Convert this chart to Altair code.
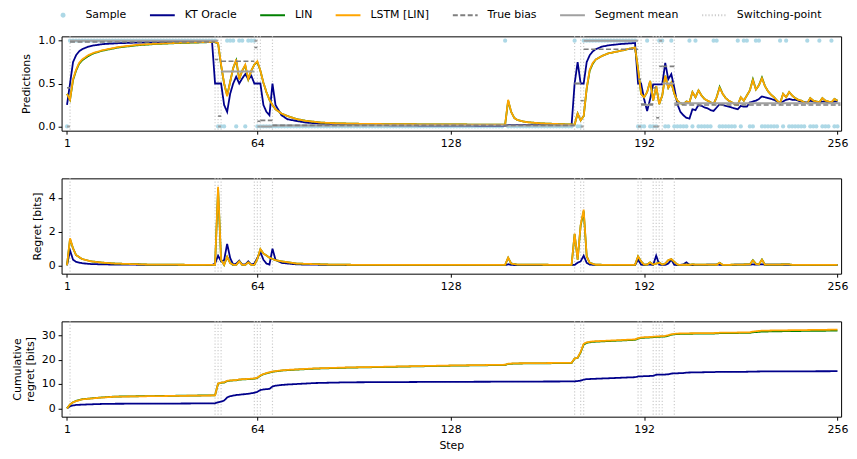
import altair as alt
import pandas as pd

FONT = "DejaVu Sans"

# ---------------- legend / series ----------------
series_names = ["Sample", "KT Oracle", "LIN", "LSTM [LIN]", "True bias", "Segment mean", "Switching-point"]
series_colors = ["#add8e6", "#00008b", "#008000", "#ffa500", "#7f7f7f", "#a0a0a0", "#cccccc"]
series_dashes = [[1, 0], [1, 0], [1, 0], [1, 0], [5, 2.5], [1, 0], [1.2, 2]]

x_ticks = [1, 64, 128, 192, 256]

# ---------------- observed samples (step 1..256) ----------------
samples = (
    "0111111111111111"  # 1-16
    "1111111111111111"  # 17-32
    "1111111111111111"  # 33-48
    "1100011101101110"  # 49-64
    "0000000000000000"  # 65-80
    "0000000000000000"  # 81-96
    "0000000000000000"  # 97-112
    "0000000000000000"  # 113-128
    "0000000000000000"  # 129-144
    "0100000000000000"  # 145-160
    "0000000010011111"  # 161-176
    "1111111111111000"  # 177-192
    "1000110010000010"  # 193-208
    "1000001100000010"  # 209-224
    "1100110000001010"  # 225-240
    "0000010001000100"  # 241-256
)

# ---------------- segments ----------------
seg_start = [1, 2, 50, 51, 52, 63, 64, 65, 69, 169, 171, 172, 190, 191, 195, 196, 197, 198, 202]
seg_stop = [2, 50, 51, 52, 63, 64, 65, 69, 169, 171, 172, 190, 191, 195, 196, 197, 198, 202, 257]
seg_bias = [0.45, 0.985, 0.78, 0.12, 0.76, 0.92, 0.06, 0.07, 0.012, 0.5, 0.3, 0.9, 0.55, 0.26, 0.45, 0.1, 0.7, 0.7, 0.25]
seg_mean = [0.0, 1.0, 1.0, 0.0, 0.64, 1.0, 0.0, 0.0, 0.01, 0.5, 0.0, 1.0, 0.0, 0.25, 0.0, 0.0, 1.0, 0.5, 0.27]
switch_steps = [2, 50, 51, 52, 63, 64, 65, 69, 169, 171, 172, 190, 191, 195, 196, 197, 198, 202]

# ---------------- predictions ----------------
pred_steps = [1, 2, 3, 4, 5, 6, 8, 10, 13, 18, 24, 30, 38,
              49, 50, 51, 52, 53, 54, 55, 56, 57, 58, 59, 60, 61, 62, 63, 64, 65, 66, 67, 68, 69, 70,
              72, 74, 77, 80, 85, 90, 100, 120, 146, 147, 148, 149, 150, 153, 158,
              168, 169, 170, 171, 172, 173, 174, 175, 176, 178, 180, 184] + list(range(189, 257))
pred_kt = [0.25, 0.5, 0.75, 0.83, 0.875, 0.9, 0.93, 0.945, 0.96, 0.97, 0.977, 0.98, 0.985,
           0.988, 0.5, 0.5, 0.5, 0.25, 0.17, 0.38, 0.5, 0.58, 0.5, 0.56, 0.61, 0.55, 0.59, 0.5, 0.5, 0.5, 0.25, 0.17, 0.13, 0.5, 0.25,
           0.13, 0.083, 0.063, 0.045, 0.031, 0.024, 0.016, 0.0098, 0.0065, 0.019, 0.019, 0.018, 0.018, 0.018, 0.017,
           0.016, 0.5, 0.75, 0.5, 0.5, 0.75, 0.83, 0.875, 0.9, 0.93, 0.944, 0.96,
           0.972, 0.5, 0.5, 0.32, 0.18, 0.32, 0.49, 0.49, 0.49, 0.49,
           0.74, 0.55, 0.61, 0.45, 0.26, 0.17, 0.13, 0.1, 0.09, 0.2,
           0.19, 0.25, 0.24, 0.22, 0.21, 0.19, 0.18, 0.22, 0.26, 0.25,
           0.24, 0.23, 0.22, 0.21, 0.2, 0.24, 0.23, 0.23, 0.28, 0.29,
           0.3, 0.32, 0.35, 0.34, 0.33, 0.32, 0.31, 0.29, 0.27, 0.29,
           0.31, 0.32, 0.31, 0.31, 0.3, 0.29, 0.28, 0.28, 0.3, 0.29,
           0.28, 0.28, 0.29, 0.29, 0.28, 0.28, 0.29, 0.29]
pred_lstm = [0.38, 0.31, 0.55, 0.66, 0.74, 0.78, 0.83, 0.86, 0.89, 0.925, 0.95, 0.963, 0.975,
             0.985, 0.985, 0.97, 0.72, 0.5, 0.35, 0.52, 0.68, 0.78, 0.55, 0.65, 0.72, 0.55, 0.65, 0.72, 0.76, 0.65, 0.51, 0.4, 0.31, 0.25, 0.2,
             0.15, 0.12, 0.085, 0.065, 0.045, 0.036, 0.029, 0.024, 0.02, 0.31, 0.17, 0.1, 0.075, 0.05, 0.035,
             0.022, 0.02, 0.15, 0.07, 0.12, 0.45, 0.66, 0.74, 0.78, 0.82, 0.85, 0.88,
             0.92, 0.67, 0.38, 0.34, 0.4, 0.53, 0.3, 0.47, 0.26, 0.36,
             0.59, 0.45, 0.51, 0.38, 0.3, 0.27, 0.26, 0.29, 0.28, 0.4,
             0.34, 0.42, 0.36, 0.32, 0.3, 0.28, 0.26, 0.34, 0.45, 0.38,
             0.33, 0.3, 0.28, 0.26, 0.25, 0.34, 0.3, 0.36, 0.42, 0.54,
             0.43, 0.48, 0.56, 0.47, 0.41, 0.37, 0.34, 0.3, 0.27, 0.38,
             0.34, 0.4, 0.36, 0.33, 0.31, 0.3, 0.28, 0.27, 0.33, 0.3,
             0.29, 0.28, 0.33, 0.3, 0.29, 0.28, 0.32, 0.3]
pred_lin = [0.38, 0.31, 0.54, 0.65, 0.73, 0.77, 0.82, 0.855, 0.885, 0.92, 0.945, 0.96, 0.972,
            0.983, 0.983, 0.968, 0.71, 0.5, 0.36, 0.52, 0.68, 0.77, 0.55, 0.65, 0.71, 0.55, 0.65, 0.72, 0.75, 0.65, 0.51, 0.4, 0.31, 0.25, 0.2,
            0.15, 0.12, 0.085, 0.065, 0.045, 0.036, 0.029, 0.024, 0.02, 0.3, 0.17, 0.1, 0.075, 0.05, 0.035,
            0.022, 0.02, 0.15, 0.07, 0.12, 0.44, 0.65, 0.73, 0.78, 0.82, 0.85, 0.88,
            0.92, 0.67, 0.38, 0.34, 0.4, 0.53, 0.3, 0.47, 0.26, 0.36,
            0.59, 0.45, 0.51, 0.38, 0.3, 0.27, 0.26, 0.29, 0.28, 0.4,
            0.34, 0.42, 0.36, 0.32, 0.3, 0.28, 0.26, 0.34, 0.46, 0.38,
            0.33, 0.3, 0.28, 0.26, 0.25, 0.34, 0.3, 0.36, 0.42, 0.55,
            0.43, 0.48, 0.57, 0.47, 0.41, 0.37, 0.34, 0.3, 0.27, 0.38,
            0.34, 0.4, 0.36, 0.33, 0.31, 0.3, 0.28, 0.27, 0.33, 0.3,
            0.29, 0.28, 0.33, 0.3, 0.29, 0.28, 0.32, 0.3]

# ---------------- regret per step ----------------
reg_steps = [1, 2, 3, 4, 6, 9, 13, 17, 28,
             49, 50, 51, 52, 53, 54, 55, 56, 57, 58, 59, 60, 61, 62, 63, 64, 65, 66, 67, 68, 69, 70,
             72, 77, 88, 100, 146, 147, 148, 150, 168, 169, 170, 171, 172, 173, 174, 176,
             189, 190, 191, 192, 193, 194, 195, 196, 197, 198, 199, 200, 201, 202, 203, 204, 205, 206, 207, 208, 209, 210,
             216, 217, 218, 227, 228, 229, 230, 231, 232, 240, 241, 256]
reg_kt = [0, 0.88, 0.33, 0.2, 0.12, 0.07, 0.05, 0.04, 0.025,
          0.015, 0.1, 0.57, 0.23, 0.3, 1.27, 0.43, 0.04, 0.1, 0.27, 0.04, 0.05, 0.23, 0.04, 0.1, 0.43, 0.78, 0.33, 0.1, 0.04, 0.98, 0.33,
          0.14, 0.05, 0.02, 0.01, 0.01, 0.06, 0.02, 0.01, 0.01, 0.02, 0.15, 0.23, 0.57, 0.14, 0.04, 0.02,
          0.01, 0.33, 0.04, 0.01, 0.04, 0.04, 0.02, 0.57, 0.04, 0.02, 0.02, 0.1, 0.33, 0.02, 0.01, 0.02, 0.05, 0.17, 0.03, 0.01, 0.02, 0.02,
          0.04, 0.03, 0.02, 0.04, 0.05, 0.04, 0.05, 0.06, 0.03, 0.03, 0.02, 0.01]
reg_lstm = [0, 1.6, 1.0, 0.6, 0.37, 0.23, 0.15, 0.1, 0.04,
            0.02, 0.02, 4.65, 0.3, 0.02, 0.5, 0.13, 0.02, 0.02, 0.23, 0.02, 0.02, 0.17, 0.02, 0.02, 0.37, 0.96, 0.7, 0.58, 0.45, 0.37, 0.3,
            0.23, 0.1, 0.04, 0.02, 0.02, 0.45, 0.1, 0.04, 0.02, 1.87, 0.33, 2.4, 3.3, 0.53, 0.14, 0.03,
            0.02, 0.53, 0.23, 0.04, 0.04, 0.17, 0.04, 0.1, 0.15, 0.04, 0.1, 0.3, 0.37, 0.2, 0.04, 0.02, 0.03, 0.03, 0.03, 0.05, 0.04, 0.04,
            0.03, 0.14, 0.02, 0.05, 0.29, 0.08, 0.05, 0.33, 0.03, 0.05, 0.02, 0.02]
reg_lin = [0, 1.55, 1.0, 0.6, 0.37, 0.23, 0.15, 0.1, 0.04,
           0.02, 0.02, 4.55, 0.3, 0.02, 0.5, 0.13, 0.02, 0.02, 0.23, 0.02, 0.02, 0.17, 0.02, 0.02, 0.37, 0.95, 0.7, 0.58, 0.45, 0.37, 0.3,
           0.23, 0.1, 0.04, 0.02, 0.02, 0.44, 0.1, 0.04, 0.02, 1.85, 0.33, 2.35, 3.2, 0.53, 0.14, 0.03,
           0.02, 0.52, 0.23, 0.04, 0.04, 0.17, 0.04, 0.1, 0.16, 0.04, 0.1, 0.3, 0.36, 0.2, 0.04, 0.02, 0.03, 0.03, 0.03, 0.05, 0.04, 0.04,
           0.03, 0.15, 0.02, 0.05, 0.3, 0.08, 0.05, 0.34, 0.03, 0.05, 0.02, 0.02]

# ---------------- cumulative regret ----------------
cum_steps = [1, 2, 3, 4, 6, 12, 17, 28, 49, 50, 51, 52, 53, 54, 55, 57, 58, 61, 63, 64, 65, 66, 68, 69, 70, 72, 74,
             80, 83, 94, 128, 146, 147, 150, 168, 169, 170, 171, 172, 173, 175,
             189, 190, 191, 194, 195, 196, 199, 200, 201, 203, 205, 206, 215, 216, 217, 225, 227, 228, 231, 240, 256]
cum_kt = [0, 0.9, 1.2, 1.4, 1.55, 1.8, 1.9, 1.95, 2.05, 2.1, 2.5, 2.8, 3.2, 4.5, 5.0, 5.5, 5.6, 6.0, 6.4, 6.8, 7.5, 7.8, 8.0, 9.0, 9.3, 9.6, 9.8,
          10.2, 10.4, 10.7, 10.9, 10.95, 11.0, 11.0, 11.05, 11.1, 11.2, 11.4, 11.8, 12.0, 12.1,
          12.8, 13.1, 13.15, 13.3, 13.35, 13.8, 13.9, 14.0, 14.3, 14.4, 14.5, 14.7, 14.9, 14.95, 14.97, 15.0, 15.05, 15.1, 15.15, 15.2, 15.25]
cum_lstm = [0, 1.6, 2.5, 3.0, 3.7, 4.4, 4.8, 5.0, 5.3, 5.35, 10.2, 10.6, 10.7, 11.3, 11.5, 11.6, 11.9, 12.1, 12.3, 12.6, 13.5, 14.1, 14.8, 15.1, 15.3, 15.6, 15.8,
            16.2, 16.4, 16.8, 17.6, 17.9, 18.35, 18.5, 18.7, 20.5, 20.8, 23.2, 26.5, 27.1, 27.5,
            28.3, 28.8, 29.1, 29.3, 29.4, 29.5, 29.7, 30.0, 30.4, 30.7, 30.75, 30.8, 30.9, 30.95, 31.05, 31.15, 31.2, 31.5, 31.9, 32.05, 32.3]
cum_lin = [0, 1.6, 2.5, 3.05, 3.75, 4.45, 4.85, 5.05, 5.35, 5.4, 10.1, 10.5, 10.6, 11.2, 11.4, 11.5, 11.8, 12.0, 12.2, 12.5, 13.4, 14.0, 14.7, 15.0, 15.2, 15.5, 15.7,
           16.1, 16.3, 16.7, 17.5, 17.8, 18.25, 18.4, 18.6, 20.4, 20.7, 23.0, 26.2, 26.9, 27.3,
           28.1, 28.6, 28.9, 29.1, 29.2, 29.3, 29.5, 29.8, 30.2, 30.5, 30.55, 30.6, 30.7, 30.75, 30.85, 30.95, 31.0, 31.2, 31.5, 31.7, 31.9]

# ---------------- frames ----------------
def long_frame(steps, columns):
    rows = []
    for name, vals in columns.items():
        for s, v in zip(steps, vals):
            rows.append({"step": s, "value": v, "series": name})
    return pd.DataFrame(rows)

sample_df = pd.DataFrame({"step": list(range(1, 257)), "value": [int(c) for c in samples], "series": "Sample"})
bias_df = pd.DataFrame({"start": seg_start, "stop": seg_stop, "value": seg_bias, "series": "True bias"})
mean_df = pd.DataFrame({"start": seg_start, "stop": seg_stop, "value": seg_mean, "series": "Segment mean"})
switch_df = pd.DataFrame({"step": switch_steps, "series": "Switching-point"})

pred_df = long_frame(pred_steps, {"KT Oracle": pred_kt, "LIN": pred_lin, "LSTM [LIN]": pred_lstm})
reg_df = long_frame(reg_steps, {"KT Oracle": reg_kt, "LIN": reg_lin, "LSTM [LIN]": reg_lstm})
cum_df = long_frame(cum_steps, {"KT Oracle": cum_kt, "LIN": cum_lin, "LSTM [LIN]": cum_lstm})

# ---------------- encodings ----------------
DOT_PATH = "M-0.13,0A0.13,0.13,0,1,1,0.13,0A0.13,0.13,0,1,1,-0.13,0Z"
legend = alt.Legend(
    title=None, orient="none", legendX=-12, legendY=-35, direction="horizontal", columns=7,
    labelFont=FONT, labelFontSize=11, labelColor="black", labelOffset=9,
    columnPadding=19, symbolSize=625, symbolStrokeWidth=1.8,
    symbolType=alt.ExprRef(expr="datum.value === 'Sample' ? '" + DOT_PATH + "' : 'stroke'"),
)

def color_enc(show):
    return alt.Color("series:N", scale=alt.Scale(domain=series_names, range=series_colors),
                     legend=legend if show else None)

def dash_enc(show):
    return alt.StrokeDash("series:N", scale=alt.Scale(domain=series_names, range=series_dashes),
                          legend=legend if show else None)

x_scale = alt.Scale(domain=[-0.8, 257.2], nice=False, zero=False)

def x_enc(title=None):
    return alt.X("step:Q", scale=x_scale,
                 axis=alt.Axis(values=x_ticks, format="d", title=title, labelFlush=False))

def x_rule():
    return alt.X("step:Q", scale=x_scale)

def y_enc(domain, ticks, title, fmt, tpad):
    return alt.Y("value:Q", scale=alt.Scale(domain=domain, nice=False, zero=False),
                 axis=alt.Axis(values=ticks, title=title, format=fmt, titlePadding=tpad))

W = 785

def panel(df, domain, ticks, title, fmt, height, tpad, top=False, xtitle=None):
    show = top
    layers = []
    layers.append(alt.Chart(switch_df).mark_rule(strokeWidth=1.2).encode(
        x=x_rule(), color=color_enc(show), strokeDash=dash_enc(show)))
    if top:
        layers.append(alt.Chart(sample_df).mark_circle(size=18, opacity=1).encode(
            x=x_enc(xtitle), y=y_enc(domain, ticks, title, fmt, tpad), color=color_enc(show)))
    for name in ["KT Oracle", "LIN", "LSTM [LIN]"]:
        layers.append(alt.Chart(df[df["series"] == name]).mark_line(strokeWidth=1.8).encode(
            x=x_enc(xtitle), y=y_enc(domain, ticks, title, fmt, tpad),
            color=color_enc(show), strokeDash=dash_enc(show)))
    if top:
        layers.append(alt.Chart(mean_df).mark_rule(strokeWidth=2).encode(
            x=alt.X("start:Q", scale=x_scale), x2="stop:Q",
            y=alt.Y("value:Q", scale=alt.Scale(domain=domain, nice=False, zero=False)),
            color=color_enc(show), strokeDash=dash_enc(show)))
        layers.append(alt.Chart(bias_df).mark_rule(strokeWidth=1.6).encode(
            x=alt.X("start:Q", scale=x_scale), x2="stop:Q",
            y=alt.Y("value:Q", scale=alt.Scale(domain=domain, nice=False, zero=False)),
            color=color_enc(show), strokeDash=dash_enc(show)))
    return alt.layer(*layers).properties(width=W, height=height)

p1 = panel(pred_df, [-0.05, 1.05], [0, 0.5, 1.0], "Predictions", ".1f", 95, 6, top=True)
p2 = panel(reg_df, [-0.5, 5.15], [0, 2, 4], "Regret [bits]", "d", 96, 6)
p3 = panel(cum_df, [-3.4, 35.7], [0, 10, 20, 30], ["Cumulative", "regret [bits]"], "d", 96, 6, xtitle="Step")

chart = alt.vconcat(p1, p2, p3, spacing=28).properties(
    padding={"left": 11, "top": 0, "right": 8, "bottom": 5}
).configure(
    font=FONT, background="white"
).configure_view(
    stroke="black", strokeWidth=1
).configure_axis(
    labelFont=FONT, labelFontSize=11, labelColor="black",
    titleFont=FONT, titleFontSize=11, titleFontWeight="normal", titleColor="black",
    tickColor="black", tickSize=3.5, tickWidth=1, domain=False, grid=False,
    labelPadding=3, titlePadding=6,
)

chart.save("out.html", embed_options={"renderer": "svg", "actions": False})
